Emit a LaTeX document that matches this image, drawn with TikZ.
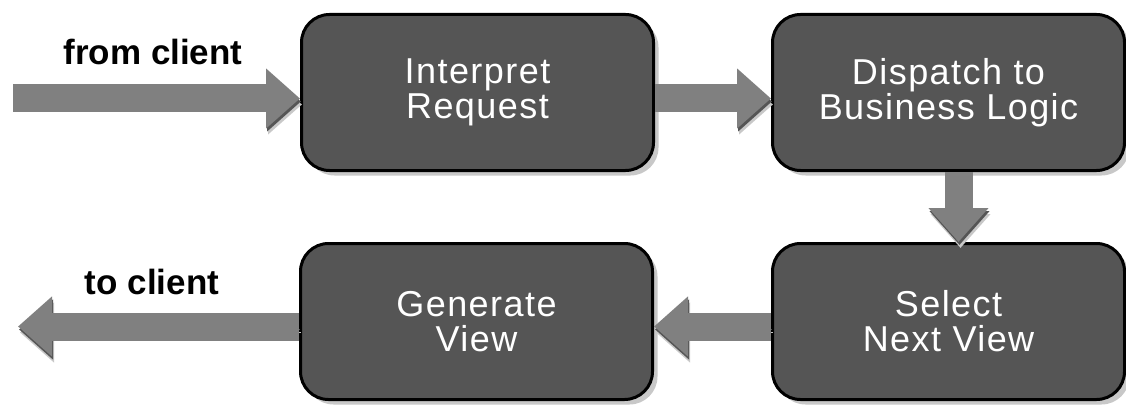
\documentclass[tikz,border=0pt]{standalone}
\usepackage{fontspec}
\setmainfont{Liberation Sans}
\usetikzlibrary{arrows.meta}
\usetikzlibrary{shadows}
\definecolor{boxgray}{HTML}{555555}
\definecolor{arrgray}{HTML}{808080}
\definecolor{edgegray}{HTML}{555555}
\definecolor{shadegray}{HTML}{C8C8C8}

\begin{document}
\begin{tikzpicture}[x=1pt, y=1pt,
  stage/.style={draw=black, line width=3pt, fill=boxgray, rounded corners=28pt, minimum width=352pt, minimum height=156pt, text=white, align=center, font=\fontsize{36}{35}\selectfont\addfontfeatures{LetterSpace=4}, drop shadow={shadow xshift=5pt, shadow yshift=-5pt, fill=shadegray, opacity=1}},
  flow/.style={draw=arrgray, line width=28pt, -{Triangle[length=34pt, width=58pt]}, preaction={draw=shadegray, transform canvas={shift={(2pt,-6pt)}}}, preaction={draw=edgegray, transform canvas={shift={(1pt,-3pt)}}}},
  lbl/.style={font=\bfseries\fontsize{35}{40}\selectfont, anchor=base}]
\useasboundingbox (0,0) rectangle (1126,405);
\node[stage] (interp) at (477.5,312.5) {Interpret\\Request};
\node[stage] (disp) at (948.5,312.5) {Dispatch to\\Business Logic};
\node[stage] (select) at (948.5,83.5) {Select\\Next View};
\node[stage] (gen) at (476.5,83.5) {Generate\\View};
\node[lbl] (fromlbl) at (153,340) {from client};
\node[lbl] (tolbl) at (152,111) {to client};
\coordinate (src) at (13,306.5);
\coordinate (dst) at (18,78.5);
\draw[flow] (src) -- ([yshift=-6pt]interp.west);
\draw[flow] ([yshift=-6pt]interp.east) -- ([yshift=-6pt]disp.west);
\draw[flow] ([xshift=10pt]disp.south) -- ([xshift=10pt]select.north);
\draw[flow] ([yshift=-5pt]select.west) -- ([yshift=-5pt]gen.east);
\draw[flow] ([yshift=-5pt]gen.west) -- (dst);
\end{tikzpicture}
\end{document}
